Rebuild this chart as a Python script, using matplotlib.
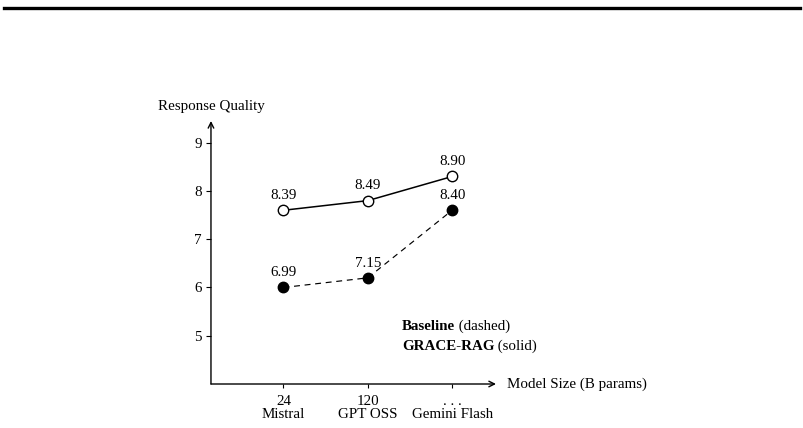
import matplotlib.pyplot as plt
from matplotlib.lines import Line2D

# ========================================
# DATA
# ========================================
model_sizes = ["24", "120", ". . ."]
model_names = ["Mistral", "GPT OSS", "Gemini Flash"]

# plotted heights of the markers (schematic positions)
grace_y = [7.6, 7.8, 8.3]
baseline_y = [6.0, 6.2, 7.6]

# printed scores above each marker
grace_scores = [8.39, 8.49, 8.90]
baseline_scores = [6.99, 7.15, 8.40]

y_ticks = [5, 6, 7, 8, 9]

plt.rcParams['font.family'] = ['Liberation Serif', 'DejaVu Serif']
FS = 10.8

fig = plt.figure(figsize=(8.04, 4.28), dpi=100)
ax = fig.add_axes([0.2624, 0.1028, 0.3545, 0.6145])

xs = list(range(1, len(model_sizes) + 1))
X_MIN, X_MAX = 0.14, 3.52
Y_MIN, Y_MAX = 4.0, 9.45
ax.set_xlim(X_MIN, X_MAX)
ax.set_ylim(Y_MIN, Y_MAX)

for s in ax.spines.values():
    s.set_visible(False)

# axes with open arrow heads
ax.annotate('', xy=(X_MAX, Y_MIN), xytext=(X_MIN, Y_MIN),
            arrowprops=dict(arrowstyle='->', lw=1.0, color='black',
                            shrinkA=0, shrinkB=0, mutation_scale=10),
            annotation_clip=False)
ax.annotate('', xy=(X_MIN, Y_MAX), xytext=(X_MIN, Y_MIN),
            arrowprops=dict(arrowstyle='->', lw=1.0, color='black',
                            shrinkA=0, shrinkB=0, mutation_scale=10),
            annotation_clip=False)

# lines
ax.plot(xs, grace_y, color='black', lw=1.1, marker='o', markersize=7.5,
        markerfacecolor='white', markeredgecolor='black', markeredgewidth=1.0,
        clip_on=False, zorder=3)
ax.plot(xs, baseline_y, color='black', lw=0.85, linestyle=(0, (5, 4)),
        marker='o', markersize=7.5, markerfacecolor='black',
        markeredgecolor='black', clip_on=False, zorder=3)

for x, y, v in zip(xs, grace_y, grace_scores):
    ax.annotate(f"{v:.2f}", xy=(x, y), xytext=(0, 6), textcoords='offset points',
                ha='center', va='bottom', fontsize=FS)
for x, y, v in zip(xs, baseline_y, baseline_scores):
    ax.annotate(f"{v:.2f}", xy=(x, y), xytext=(0, 6), textcoords='offset points',
                ha='center', va='bottom', fontsize=FS)

# ticks
ax.set_yticks(y_ticks)
ax.set_yticklabels([str(t) for t in y_ticks], fontsize=FS)
ax.set_xticks(xs)
ax.set_xticklabels([f"{a}\n{b}" for a, b in zip(model_sizes, model_names)],
                   fontsize=FS, linespacing=0.95)
ax.tick_params(axis='y', direction='out', length=3.5, width=0.8, pad=3)
ax.tick_params(axis='x', direction='out', length=3, width=0.8, pad=5)

# axis titles
ax.annotate("Response Quality", xy=(X_MIN, Y_MAX), xytext=(0, 6),
            textcoords='offset points', ha='center', va='bottom',
            fontsize=FS, annotation_clip=False)
ax.annotate("Model Size (B params)", xy=(X_MAX, Y_MIN), xytext=(8, 0),
            textcoords='offset points', ha='left', va='center',
            fontsize=FS, annotation_clip=False)

# legend written as text
LEG_X = 2.405
for y, bold, rest in [(5.12, "Baseline", " (dashed)"),
                      (4.71, "GRACE-RAG", " (solid)")]:
    t = ax.text(LEG_X, y, bold, fontweight='bold', fontsize=FS,
                ha='left', va='baseline')
    ax.annotate(rest, xy=(1, y), xycoords=(t, 'data'), ha='left',
                va='baseline', fontsize=FS)

# thick rule at the top of the page
fig.add_artist(Line2D([0.005, 0.995], [0.981, 0.981], color='black', lw=2.4,
                      transform=fig.transFigure))

fig.savefig('out.png', dpi=100)
